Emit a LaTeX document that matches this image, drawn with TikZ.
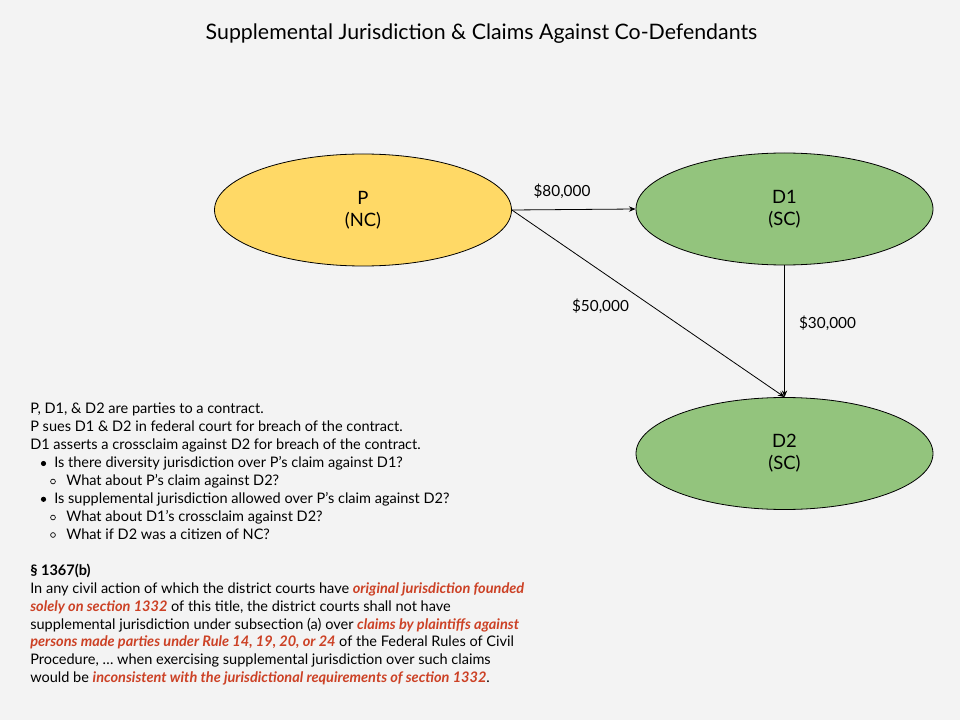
\documentclass[tikz,border=0pt]{standalone}
\usepackage{fontspec}
\setmainfont{Lato}
\usetikzlibrary{arrows.meta,shapes.geometric}
\definecolor{bg}{HTML}{F3F3F3}
\definecolor{pyellow}{HTML}{FFD966}
\definecolor{dgreen}{HTML}{93C47D}
\definecolor{redtxt}{HTML}{CC4125}
\tikzset{
  party/.style={ellipse, draw=black, line width=0.6pt, minimum width=297*0.75pt, minimum height=112*0.75pt, inner sep=0pt, align=center, font=\fontsize{13.8}{16.5}\selectfont},
  conn/.style={draw=black, line width=0.6pt, -{Stealth[length=5pt,width=4pt]}},
  amt/.style={font=\fontsize{11.5}{13}\selectfont},
  body/.style={anchor=base west, inner sep=0pt, font=\fontsize{10.9}{13}\selectfont}
}
\newcommand{\hlt}[1]{{\color{redtxt}\bfseries\itshape #1}}
\begin{document}
\begin{tikzpicture}[x=0.75pt,y=-0.75pt]
\path[fill=bg] (0,0) rectangle (960,720);
\useasboundingbox (0,0) rectangle (960,720);
\node[anchor=base, inner sep=0pt, font=\fontsize{16}{18}\selectfont] (title) at (481.5,40) {Supplemental Jurisdiction \& Claims Against Co-Defendants};
\node[party, fill=pyellow] (P) at (363,210) {P\\(NC)};
\node[party, fill=dgreen] (D1) at (784.5,209) {D1\\(SC)};
\node[party, fill=dgreen] (D2) at (784.5,453.5) {D2\\(SC)};
\draw[conn] (P.east) -- (D1.west);
\draw[conn] (P.east) -- (D2.north);
\draw[conn] (D1.south) -- (D2.north);
\node[amt] (a80) at (562,191) {\$80,000};
\node[amt] (a50) at (600.5,306) {\$50,000};
\node[amt] (a30) at (827.5,323) {\$30,000};
\node[body] (l1) at (30,413) {P, D1, \& D2 are parties to a contract.};
\node[body] (l2) at (30,431) {P sues D1 \& D2 in federal court for breach of the contract.};
\node[body] (l3) at (30,449) {D1 asserts a crossclaim against D2 for breach of the contract.};
\fill (43.5,463.5) circle (2.6);
\node[body] (l4) at (54,467.5) {Is there diversity jurisdiction over P’s claim against D1?};
\draw[line width=0.5pt] (53,481.5) circle (2.4);
\node[body] (l5) at (66,485.5) {What about P’s claim against D2?};
\fill (43.5,499.3) circle (2.6);
\node[body] (l6) at (54,503.3) {Is supplemental jurisdiction allowed over P’s claim against D2?};
\draw[line width=0.5pt] (53,517.5) circle (2.4);
\node[body] (l7) at (66,521.5) {What about D1’s crossclaim against D2?};
\draw[line width=0.5pt] (53,535) circle (2.4);
\node[body] (l8) at (66,539) {What if D2 was a citizen of NC?};
\node[body, font=\fontsize{10.9}{13}\selectfont\bfseries] (s0) at (30,575.7) {§ 1367(b)};
\node[body] (s1) at (30,593.5) {In any civil action of which the district courts have \hlt{original jurisdiction founded}};
\node[body] (s2) at (30,611.3) {\hlt{solely on section 1332} of this title, the district courts shall not have};
\node[body] (s3) at (30,629.1) {supplemental jurisdiction under subsection (a) over \hlt{claims by plaintiffs against}};
\node[body] (s4) at (30,646.9) {\hlt{persons made parties under Rule 14, 19, 20, or 24} of the Federal Rules of Civil};
\node[body] (s5) at (30,664.7) {Procedure, … when exercising supplemental jurisdiction over such claims};
\node[body] (s6) at (30,682.5) {would be \hlt{inconsistent with the jurisdictional requirements of section 1332}.};
\end{tikzpicture}
\end{document}
